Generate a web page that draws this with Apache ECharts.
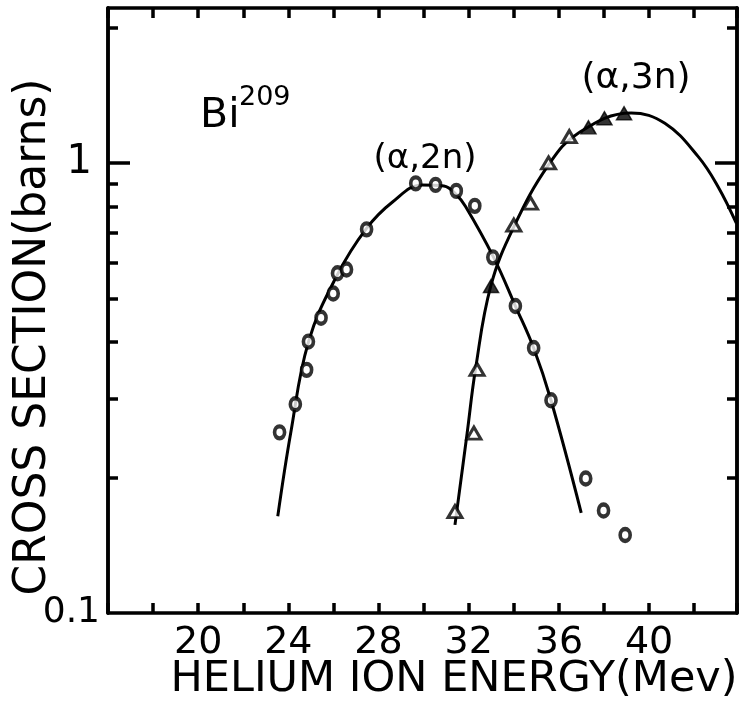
<!DOCTYPE html>
<html>
<head>
<meta charset="utf-8">
<script src="https://cdn.jsdelivr.net/npm/echarts@6/dist/echarts.min.js"></script>
<style>
html, body { margin: 0; padding: 0; background: #fff; }
#chart { width: 740px; height: 709px; }
</style>
</head>
<body>
<div id="chart"></div>
<script>
// Bi209 (alpha,2n) measured points, circles
var energy2n = [23.61, 24.31, 24.81, 24.89, 25.45, 25.99, 26.18, 26.58, 27.47, 29.65, 30.53, 31.45, 32.27, 33.07, 34.07, 34.88, 35.65, 37.19, 37.98, 38.94];
var sigma2n = [0.252, 0.291, 0.347, 0.401, 0.453, 0.513, 0.569, 0.580, 0.712, 0.901, 0.894, 0.867, 0.803, 0.617, 0.481, 0.388, 0.297, 0.199, 0.169, 0.149];

// (alpha,3n) measured points, open and filled triangles
var energy3nOpen = [31.39, 32.23, 32.37, 34.00, 34.74, 35.54, 36.46];
var sigma3nOpen = [0.168, 0.251, 0.348, 0.728, 0.814, 1.000, 1.144];
var energy3nFilled = [32.99, 37.31, 38.02, 38.89];
var sigma3nFilled = [0.533, 1.200, 1.257, 1.290];

// drawn curves
var curveE2n = [23.53, 24.11, 24.89, 26.17, 27.45, 28.62, 29.93, 30.90, 31.43, 31.86, 33.11, 34.07, 34.88, 35.65, 36.99];
var curveS2n = [0.164, 0.252, 0.400, 0.564, 0.714, 0.819, 0.894, 0.889, 0.853, 0.800, 0.616, 0.481, 0.388, 0.297, 0.167];
var curveE3n = [31.39, 31.93, 32.30, 32.98, 34.00, 35.54, 36.87, 39.21, 40.70, 42.18, 43.06, 43.87];
var curveS3n = [0.157, 0.251, 0.348, 0.533, 0.721, 0.990, 1.166, 1.292, 1.225, 1.033, 0.886, 0.735];

// axes
var xMin = 16, xMax = 43.9, xStep = 2;
var xLabelValues = [20, 24, 28, 32, 36, 40];
var yMin = 0.1, yMax = 2.21;
var yMinorTicks = [0.2, 0.3, 0.4, 0.5, 0.6, 0.7, 0.8, 0.9, 2];
var yMajorTicks = [1];
var yLabelValues = [0.1, 1];

var FONT = 'DejaVu Sans';
var INK = '#000';

function zip(a, b) {
	var out = [];
	for (var i = 0; i < a.length; i++) out.push([a[i], b[i]]);
	return out;
}

function xAxisDef(pos, labels) {
	return {
		type: 'value',
		position: pos,
		min: xMin,
		max: xMax,
		interval: xStep,
		axisLine: { show: true, onZero: false, lineStyle: { color: INK, width: 3.5 } },
		axisTick: { show: true, inside: true, length: 10, lineStyle: { color: INK, width: 3.5 } },
		axisLabel: {
			show: labels,
			margin: 11,
			color: INK,
			fontFamily: FONT,
			fontSize: 38,
			formatter: function (v) {
				return xLabelValues.indexOf(v) >= 0 ? String(v) : '';
			}
		},
		splitLine: { show: false }
	};
}

function yAxisDef(pos, ticks, len, labels) {
	return {
		type: 'log',
		logBase: 10,
		position: pos,
		min: yMin,
		max: yMax,
		axisLine: { show: true, onZero: false, lineStyle: { color: INK, width: 3.5 } },
		axisTick: { show: true, inside: true, length: len, customValues: ticks, lineStyle: { color: INK, width: 3.5 } },
		axisLabel: labels ? {
			show: true,
			customValues: yLabelValues,
			margin: 8,
			color: INK,
			fontFamily: FONT,
			fontSize: 36,
			formatter: function (v) {
				return v < 0.5 ? '0.1' : '{p|1}';
			},
			rich: { p: { fontFamily: FONT, fontSize: 40, color: INK, padding: [0, 8, 0, 0] } }
		} : { show: false },
		splitLine: { show: false },
		minorTick: { show: false }
	};
}

var chart = echarts.init(document.getElementById('chart'), null, { renderer: 'canvas' });

chart.setOption({
	animation: false,
	backgroundColor: '#fff',
	grid: { left: 108, top: 8, right: 1, bottom: 96, containLabel: false },
	xAxis: [xAxisDef('bottom', true), xAxisDef('top', false)],
	yAxis: [
		yAxisDef('left', yMinorTicks, 10, true),
		yAxisDef('left', yMajorTicks, 22, false),
		yAxisDef('right', yMinorTicks, 10, false),
		yAxisDef('right', yMajorTicks, 22, false)
	],
	graphic: [
		{ type: 'text', left: 200, top: 96, style: { text: 'Bi', font: '41px "DejaVu Sans"', fill: INK } },
		{ type: 'text', left: 239, top: 84, style: { text: '209', font: '27px "DejaVu Sans"', fill: INK } },
		{ type: 'text', x: 425, y: 159, style: { text: '(α,2n)', font: '34px "DejaVu Sans"', fill: INK, align: 'center', verticalAlign: 'middle' } },
		{ type: 'text', x: 636, y: 79, style: { text: '(α,3n)', font: '36px "DejaVu Sans"', fill: INK, align: 'center', verticalAlign: 'middle' } },
		{ type: 'text', x: 454, y: 680, style: { text: 'HELIUM ION ENERGY(Mev)', font: '43px "DejaVu Sans"', fill: INK, align: 'center', verticalAlign: 'middle' } },
		{ type: 'text', x: 34, y: 337, rotation: Math.PI / 2, style: { text: 'CROSS SECTION(barns)', font: '44px "DejaVu Sans"', fill: INK, align: 'center', verticalAlign: 'middle' } }
	],
	series: [
		{
			name: '(α,2n) fit',
			type: 'line',
			data: zip(curveE2n, curveS2n),
			smooth: 0.4,
			showSymbol: false,
			lineStyle: { color: INK, width: 3 },
			z: 2
		},
		{
			name: '(α,3n) fit',
			type: 'line',
			data: zip(curveE3n, curveS3n),
			smooth: 0.4,
			showSymbol: false,
			lineStyle: { color: INK, width: 3 },
			z: 2
		},
		{
			name: '(α,2n)',
			type: 'scatter',
			data: zip(energy2n, sigma2n),
			symbol: 'circle',
			symbolSize: [10, 12],
			itemStyle: { color: '#fff', borderColor: INK, borderWidth: 4 },
			z: 3
		},
		{
			name: '(α,3n) open',
			type: 'scatter',
			data: zip(energy3nOpen, sigma3nOpen),
			symbol: 'triangle',
			symbolSize: [14, 12],
			itemStyle: { color: '#fff', borderColor: INK, borderWidth: 3 },
			z: 3
		},
		{
			name: '(α,3n) filled',
			type: 'scatter',
			data: zip(energy3nFilled, sigma3nFilled),
			symbol: 'triangle',
			symbolSize: [15, 13],
			itemStyle: { color: INK, borderColor: INK, borderWidth: 1.5 },
			z: 3
		}
	]
});
</script>
</body>
</html>
